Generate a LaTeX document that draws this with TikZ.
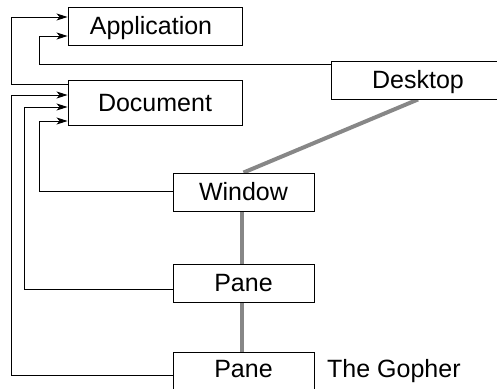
\documentclass[tikz,border=0pt]{standalone}
\usepackage{fontspec}
\setmainfont{Liberation Sans}
\usetikzlibrary{arrows.meta}
\definecolor{linkgray}{gray}{0.53}
\pgfdeclarelayer{bg}
\pgfsetlayers{bg,main}
\begin{document}
\begin{tikzpicture}[x=1pt,y=-1pt,
  txt/.style={inner sep=0pt, text height=17.5pt, text depth=0pt, font=\fontsize{25}{29}\selectfont},
  box/.style={txt, draw=black, fill=white, line width=0.9pt},
  wide/.style={box, minimum width=174pt, minimum height=38pt},
  narrow/.style={box, minimum width=141pt, minimum height=38pt},
  link/.style={draw=linkgray, line width=4pt},
  ref/.style={draw=black, line width=0.9pt, -{Stealth[length=11pt,width=7pt,inset=3pt]}}
]
\useasboundingbox (0,0) rectangle (497,388);
\clip (0,0) rectangle (497,388);

\node[wide] (app) at (155,26) {\hspace*{-8pt}Application};
\node[wide, minimum height=45pt] (doc) at (155,102.5) {Document};
\node[wide] (desk) at (418,80) {Desktop};
\node[narrow] (win) at (243.5,192) {Window};
\node[narrow] (pane1) at (243.5,283) {Pane};
\node[narrow, minimum height=42pt, text depth=8pt] (pane2) at (243.5,373) {Pane};
\node[txt, anchor=base west] (gopher) at (327,377.5) {The Gopher};

\begin{pgfonlayer}{bg}
  \draw[link] (desk.south) -- (win.north);
  \draw[link] ([xshift=-1.5pt]win.center) -- ([xshift=-1.5pt]pane1.center);
  \draw[link] ([xshift=-1.5pt]pane1.center) -- ([xshift=-1.5pt]pane2.center);
\end{pgfonlayer}

\draw[ref] ([yshift=-5pt]doc.north west) -- ++(-56,0) |- ([yshift=9pt]app.west);
\draw[ref] ([yshift=-4pt]desk.north west) -- ++(-291,0) |- ([yshift=-10pt]app.west);
\draw[ref] ([yshift=-2pt]pane2.west) -- ++(-161,0) |- ([yshift=7.5pt]doc.west);
\draw[ref] ([yshift=-6pt]pane1.west) -- ++(-148,0) |- ([yshift=-4.5pt]doc.west);
\draw[ref] ([yshift=1pt]win.west) -- ++(-133,0) |- ([yshift=-18.5pt]doc.west);
\end{tikzpicture}
\end{document}
